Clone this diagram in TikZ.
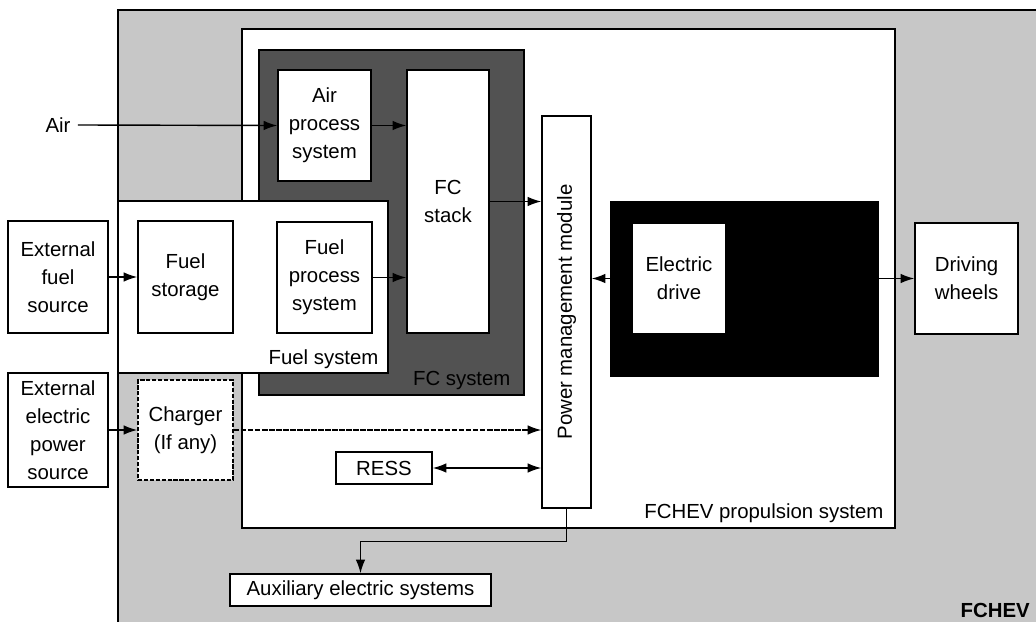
\documentclass[tikz,border=0pt]{standalone}
\usepackage{fontspec}
\setmainfont{Liberation Sans}
\usetikzlibrary{arrows.meta}

% one pixel of the layout grid
\newdimen\pxu \pxu=0.025cm
\newcommand\boxfont{\fontsize{14.5pt}{19.8pt}\selectfont}

\definecolor{paper}{gray}{0.78}
\definecolor{fcgray}{gray}{0.32}

\tikzset{
	blk/.style={draw, fill=white, align=center, inner sep=0pt, line width=1.1pt},
	frame/.style={draw, line width=1.1pt, inner sep=0pt},
	lbl/.style={inner sep=0pt, anchor=south east},
	arr/.style={-{Latex[length=0.34cm, width=0.24cm]}, line width=1pt},
	biarr/.style={{Latex[length=0.34cm, width=0.24cm]}-{Latex[length=0.34cm, width=0.24cm]}, line width=1pt},
}

\begin{document}
\begin{tikzpicture}[x=0.025cm, y=-0.025cm, font=\boxfont]
		\useasboundingbox (0,0) rectangle (1036,622);

		% Vehicle (FCHEV) background
		\fill[paper] (118,10) rectangle (1036,622);
		\draw[line width=1.1pt] (118,622) |- (1036,10);

		% Containers
		\node[frame, fill=white, minimum width=653\pxu, minimum height=499\pxu] (propsys) at (568.5,278.5) {};
		\node[frame, fill=fcgray, minimum width=265\pxu, minimum height=345\pxu] (fcsys) at (391.5,222.5) {};
		\node[frame, fill=white, minimum width=270\pxu, minimum height=172\pxu] (fuelsys) at (253,287) {};
		\node[frame, fill=black, minimum width=267\pxu, minimum height=174\pxu] (drivebg) at (744.5,289) {};

		% Container labels
		\node[lbl, xshift=-10\pxu, yshift=5\pxu] (fuelsyslbl) at (fuelsys.south east) {Fuel system};
		\node[lbl, xshift=-14\pxu, yshift=6\pxu] (fcsyslbl) at (fcsys.south east) {FC system};
		\node[lbl, xshift=-12\pxu, yshift=6\pxu] (propsyslbl) at (propsys.south east) {FCHEV propulsion system};
		\node[inner sep=0pt, anchor=base east, font=\boxfont\bfseries] (fchevlbl) at (1030,617) {FCHEV};

		% Blocks
		\node[inner sep=5pt] (air) at (58,125) {Air};
		\node[blk, minimum width=100\pxu, minimum height=112\pxu] (extfuel) at (58,277) {External\\fuel\\source};
		\node[blk, minimum width=100\pxu, minimum height=114\pxu] (extelec) at (58,430) {External\\electric\\power\\source};
		\node[blk, minimum width=95\pxu, minimum height=112\pxu] (storage) at (185.5,277) {Fuel\\storage};
		\node[blk, minimum width=95\pxu, minimum height=111\pxu] (fuelproc) at (324.5,277.5) {Fuel\\process\\system};
		\node[blk, minimum width=93\pxu, minimum height=111\pxu] (airproc) at (324.5,125.5) {Air\\process\\system};
		\node[blk, minimum width=82\pxu, minimum height=263\pxu] (stack) at (448,201.5) {FC\\stack};
		\node[blk, dash pattern=on 3pt off 1.2pt, minimum width=95\pxu, minimum height=100\pxu] (charger) at (185.5,430) {Charger\\(If any)};
		\node[blk, minimum width=96\pxu, minimum height=32\pxu] (ress) at (384,468) {RESS};
		\node[blk, minimum width=49\pxu, minimum height=392\pxu] (pmm) at (566.5,312) {};
		\node[rotate=90, inner sep=0pt] (pmmlbl) at (pmm.center) {Power management module};
		\node[blk, minimum width=94\pxu, minimum height=111\pxu] (edrive) at (679,278.5) {Electric\\drive};
		\node[blk, minimum width=103\pxu, minimum height=111\pxu] (wheels) at (966.5,278.5) {Driving\\wheels};
		\node[blk, minimum width=261\pxu, minimum height=32\pxu] (aux) at (360.5,590) {Auxiliary electric systems};

		% Flows
		\draw[arr] (air.east) -- (airproc.west);
		\draw[arr] (airproc.east) -- (airproc.east -| stack.west);
		\draw[arr] (extfuel.east) -- (storage.west);
		\draw[arr] (fuelproc.east) -- (fuelproc.east -| stack.west);
		\draw[arr] (stack.east) -- (stack.east -| pmm.west);
		\draw[arr] (drivebg.west |- edrive.west) -- (pmm.east |- edrive.west);
		\draw[arr] (drivebg.east |- wheels.west) -- (wheels.west);
		\draw[arr] (extelec.east) -- (charger.west);
		\draw[arr, dash pattern=on 4pt off 1pt] (charger.east) -- (charger.east -| pmm.west);
		\draw[biarr] (ress.east) -- (ress.east -| pmm.west);
		\draw[arr] (pmm.south) -- ++(0,33) -| (aux.north);
	\end{tikzpicture}
\end{document}
